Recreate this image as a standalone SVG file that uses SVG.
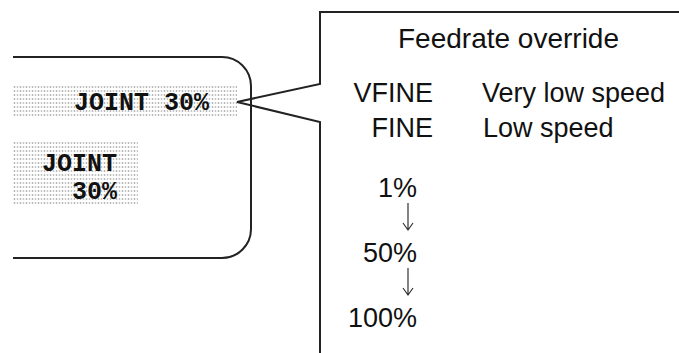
<svg xmlns="http://www.w3.org/2000/svg" width="679" height="353" viewBox="0 0 679 353">
<style>
  .ln{fill:none;stroke:#222;stroke-width:2;stroke-linejoin:miter}
  .thin{fill:none;stroke:#333;stroke-width:1.2}
  .sans{font-family:"Liberation Sans",Arial,sans-serif;fill:#111}
  .mono{font-family:"Liberation Mono","Courier New",monospace;font-weight:bold;font-size:25px;fill:#111}
  .dots{fill:url(#stip)}
</style>
<defs>
  <pattern id="stip" x="13" y="85" width="6" height="4" patternUnits="userSpaceOnUse">
    <circle cx="1.5" cy="2" r="0.9" fill="#b0b0b0"/>
    <circle cx="4.5" cy="2" r="0.9" fill="#c0c0c0"/>
  </pattern>
</defs>
<rect width="679" height="353" fill="#fff"/>
<g id="screen">
  <path class="ln" d="M13,57 H222 A29,29 0 0 1 251,86 V229 A29,29 0 0 1 222,258 H13"/>
  <g id="joint-line">
    <rect class="dots" x="13" y="85" width="224" height="32"/>
    <text class="mono" x="74" y="110">JOINT 30%</text>
  </g>
  <g id="joint-stacked">
    <rect class="dots" x="13" y="142" width="125" height="63"/>
    <text class="mono" x="42" y="171" font-size="24">JOINT</text>
    <text class="mono" x="72" y="199" font-size="24">30%</text>
  </g>
</g>
<g id="connectors">
  <path class="ln" d="M679,12 H320 V84 L237,102 L320,122 V353"/>
</g>
<g id="callout">
  <text class="sans" x="398" y="48" font-size="28">Feedrate override</text>
  <text class="sans" x="433" y="102" font-size="27" text-anchor="end">VFINE</text>
  <text class="sans" x="482" y="102" font-size="27">Very low speed</text>
  <text class="sans" x="433" y="137" font-size="27" text-anchor="end">FINE</text>
  <text class="sans" x="483" y="137" font-size="27">Low speed</text>
  <text class="sans" x="417" y="197" font-size="27" text-anchor="end">1%</text>
  <text class="sans" x="417" y="262" font-size="27" text-anchor="end">50%</text>
  <text class="sans" x="417" y="327" font-size="27" text-anchor="end">100%</text>
  <g id="arrows">
    <path class="thin" d="M408,203 V229 M403,223 L408,230 L413,223"/>
    <path class="thin" d="M408,268 V294 M403,288 L408,295 L413,288"/>
  </g>
</g>
</svg>
